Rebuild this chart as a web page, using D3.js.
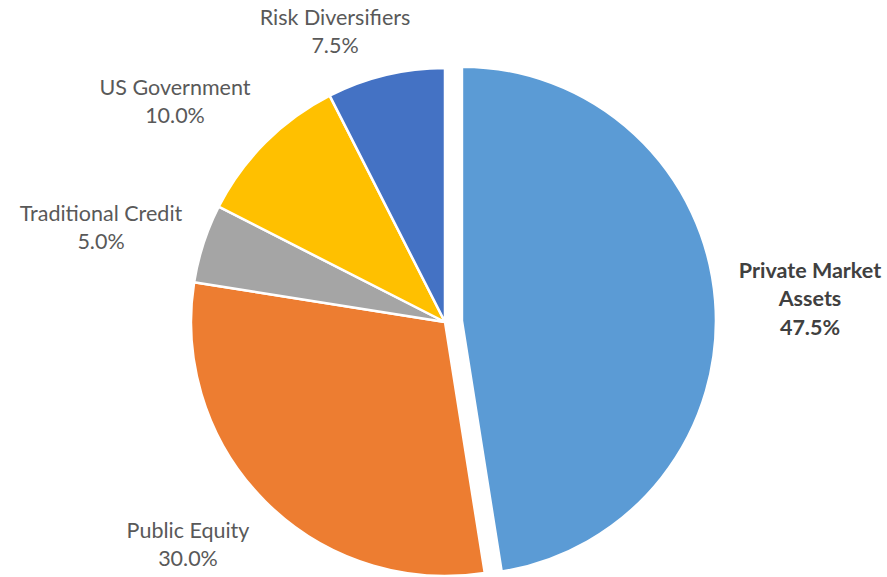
<!DOCTYPE html>
<html>
<head>
<meta charset="utf-8">
<script src="https://cdn.jsdelivr.net/npm/d3@7"></script>
<style>
  html, body { margin: 0; padding: 0; background: #fff; }
  svg { display: block; font-family: Lato, "Noto Sans", sans-serif; }
</style>
</head>
<body>
<svg id="chart" width="887" height="577"></svg>
<script>
// Asset allocation, clockwise from 12 o'clock
const categories = ["Private Market Assets", "Public Equity", "Traditional Credit", "US Government", "Risk Diversifiers"];
const shares = [47.5, 30.0, 5.0, 10.0, 7.5];
const colors = ["#5B9BD5", "#ED7D31", "#A5A5A5", "#FFC000", "#4472C4"];
const labelLines = [["Private Market", "Assets"], ["Public Equity"], ["Traditional Credit"], ["US Government"], ["Risk Diversifiers"]];

// layout
const cx = 445, cy = 322, radius = 254, explode = 17;
const labelCenters = [[810, 270], [188, 530], [101, 213], [175, 87], [335, 17]];
const lineGap = 28.5;

const svg = d3.select("#chart");
const data = categories.map((c, i) => ({ name: c, value: shares[i], color: colors[i], lines: labelLines[i], pos: labelCenters[i], bold: i === 0 }));

const pie = d3.pie().value(d => d.value).sort(null);
const arc = d3.arc().innerRadius(0).outerRadius(radius);
const arcs = pie(data);

const g = svg.append("g").attr("transform", `translate(${cx},${cy})`);

g.selectAll("path")
  .data(arcs)
  .join("path")
  .attr("d", arc)
  .attr("fill", d => d.data.color)
  .attr("stroke", "#fff")
  .attr("stroke-width", 2.5)
  .attr("stroke-linejoin", "round")
  .attr("transform", (d, i) => {
    if (i !== 0) return null;
    const mid = (d.startAngle + d.endAngle) / 2;
    return `translate(${explode * Math.sin(mid)},${-explode * Math.cos(mid)})`;
  });

const fmt = d3.format(".1f");
const labels = svg.append("g");
arcs.forEach(a => {
  const d = a.data;
  const lines = d.lines.concat([fmt(d.value) + "%"]);
  const t = labels.append("text")
    .attr("text-anchor", "middle")
    .attr("font-size", 21.5)
    .attr("font-weight", d.bold ? 700 : 400)
    .attr("fill", d.bold ? "#404040" : "#595959");
  lines.forEach((ln, k) => {
    t.append("tspan")
      .attr("x", d.pos[0])
      .attr("y", d.pos[1] + k * lineGap)
      .attr("dy", "0.35em")
      .text(ln);
  });
});
</script>
</body>
</html>
